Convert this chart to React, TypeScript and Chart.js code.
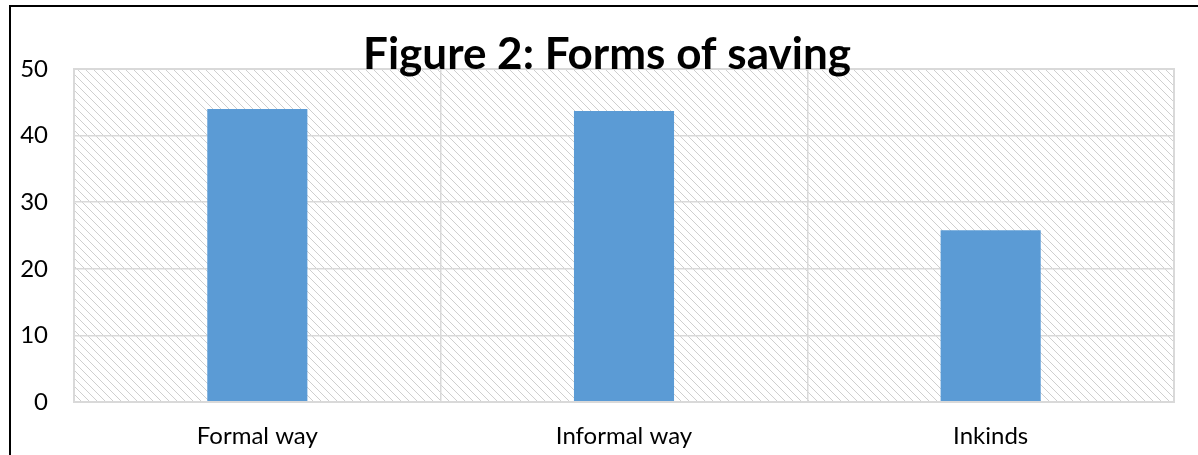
import React, { useEffect, useRef } from "react";
import { Chart, registerables } from "chart.js";

Chart.register(...registerables);

const categories = ["Formal way", "Informal way", "Inkinds"];
const values = [44, 43.7, 25.8];
const yTicks = [0, 10, 20, 30, 40, 50];
const titleText = "Figure 2: Forms of saving";

function makePattern(ctx: CanvasRenderingContext2D) {
  const c = document.createElement("canvas");
  c.width = 8;
  c.height = 8;
  const p = c.getContext("2d")!;
  p.fillStyle = "#ffffff";
  p.fillRect(0, 0, 8, 8);
  p.fillStyle = "#cfcfcf";
  for (let y = 0; y < 8; y++) {
    for (let x = 0; x < 8; x++) {
      const d = (((x - y) % 8) + 8) % 8;
      if (d === 0 || d === 1) {
        if ((x + y) % 2 === 0 || d === 0) p.fillRect(x, y, 1, 1);
      }
    }
  }
  return ctx.createPattern(c, "repeat");
}

const decorPlugin = {
  id: "decor",
  beforeDraw(chart: any) {
    const { ctx, chartArea } = chart;
    ctx.save();
    ctx.fillStyle = "#ffffff";
    ctx.fillRect(0, 0, chart.width, chart.height);
    const pat = makePattern(ctx);
    if (pat) {
      ctx.fillStyle = pat;
      ctx.fillRect(chartArea.left, chartArea.top, chartArea.right - chartArea.left, chartArea.bottom - chartArea.top);
    }
    ctx.restore();
  },
  afterDraw(chart: any) {
    const { ctx, chartArea } = chart;
    ctx.save();
    ctx.strokeStyle = "#d9d9d9";
    ctx.lineWidth = 2;
    ctx.strokeRect(chartArea.left, chartArea.top, chartArea.right - chartArea.left, chartArea.bottom - chartArea.top);
    ctx.fillStyle = "#000000";
    ctx.font = "bold 44px Lato";
    ctx.textAlign = "center";
    ctx.textBaseline = "alphabetic";
    ctx.fillText(titleText, 607, 69);
    ctx.fillStyle = "#000000";
    ctx.fillRect(9, 5, 2, chart.height - 5);
    ctx.fillRect(9, 5, chart.width - 9, 2);
    ctx.restore();
  },
};

export default function App() {
  const ref = useRef<HTMLCanvasElement>(null);
  useEffect(() => {
    if (!ref.current) return;
    const chart = new Chart(ref.current, {
      type: "bar",
      data: {
        labels: categories,
        datasets: [
          {
            data: values,
            backgroundColor: "#5b9bd5",
            categoryPercentage: 1,
            barPercentage: 0.273,
          },
        ],
      },
      options: {
        animation: false,
        responsive: true,
        maintainAspectRatio: false,
        layout: { padding: { top: 69, right: 24, left: 0, bottom: 0 } },
        plugins: { legend: { display: false }, title: { display: false }, tooltip: { enabled: false } },
        scales: {
          x: {
            grid: { color: "#d9d9d9", lineWidth: 1.5, drawTicks: false },
            border: { display: false },
            ticks: { color: "#000000", font: { family: "Lato", size: 24 }, padding: 20 },
            afterFit: (s: any) => {
              s.height = 53;
            },
          },
          y: {
            min: 0,
            max: 50,
            afterBuildTicks: (s: any) => {
              s.ticks = yTicks.map((v) => ({ value: v }));
            },
            grid: { color: "#d9d9d9", lineWidth: 1.5, drawTicks: false },
            border: { display: false },
            ticks: { color: "#000000", font: { family: "Lato", size: 24 }, padding: 26 },
            afterFit: (s: any) => {
              s.width = 74;
            },
          },
        },
      },
      plugins: [decorPlugin],
    });
    return () => chart.destroy();
  }, []);
  return (
    <div style={{ position: "fixed", left: 0, top: 0, width: 1198, height: 455, background: "#fff" }}>
      <canvas ref={ref} />
    </div>
  );
}
